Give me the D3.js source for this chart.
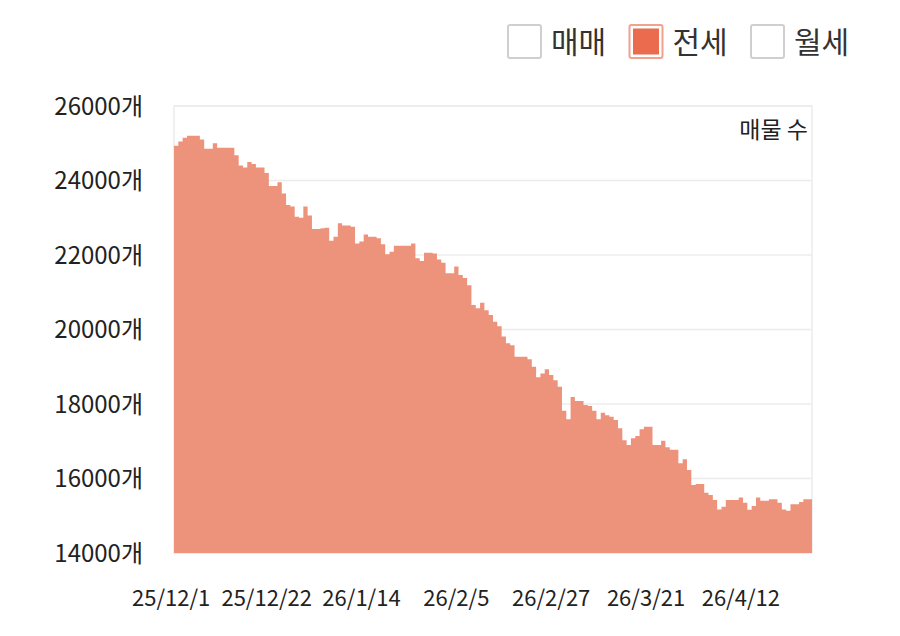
<!DOCTYPE html>
<html>
<head>
<meta charset="utf-8">
<script src="https://cdn.jsdelivr.net/npm/d3@7"></script>
<style>
  body { margin: 0; background: #fff; }
  text { font-family: "Noto Sans CJK KR", "Noto Sans", sans-serif; }
</style>
</head>
<body>
<svg id="chart" width="900" height="636"></svg>
<script>
// listing counts (전세), one value per day
const counts = [
  24930, 25050, 25150, 25200, 25200, 25200, 25100, 24850, 24850, 25000,
  24880, 24880, 24880, 24880, 24680, 24400, 24350, 24500, 24440, 24350,
  24350, 24200, 23850, 23850, 23950, 23650, 23340, 23300, 23030, 23000,
  23300, 23060, 22700, 22700, 22720, 22730, 22380, 22490, 22850, 22790,
  22790, 22760, 22310, 22360, 22550, 22490, 22490, 22450, 22290, 22020,
  22090, 22250, 22250, 22250, 22250, 22310, 21910, 21840, 22060, 22060,
  22040, 21880, 21790, 21510, 21510, 21690, 21460, 21380, 21190, 20660,
  20570, 20720, 20520, 20390, 20210, 20090, 19810, 19630, 19580, 19270,
  19270, 19270, 19200, 19000, 18720, 18820, 18930, 18780, 18640, 18460,
  17820, 17590, 18190, 18080, 18080, 17970, 17945, 17820, 17590, 17765,
  17700, 17660, 17570, 17350, 17030, 16900, 17080, 17140, 17320, 17390,
  17390, 16900, 16900, 17015, 16840, 16770, 16770, 16410, 16515, 16230,
  15825, 15850, 15850, 15620, 15555, 15420, 15170, 15240, 15420, 15420,
  15420, 15490, 15350, 15160, 15260, 15490, 15400, 15400, 15440, 15440,
  15350, 15170, 15135, 15310, 15310, 15370, 15440, 15440
];

// dates: daily from 25/12/1, 26/1/1 has no entry
const startDay = new Date(2025, 11, 1);
const skipDays = ["26/1/1"];
const fmt = d3.timeFormat("%y/%-m/%-d");

const xTicks = ["25/12/1", "25/12/22", "26/1/14", "26/2/5", "26/2/27", "26/3/21", "26/4/12"];
const yTicks = [14000, 16000, 18000, 20000, 22000, 24000, 26000];
const legendItems = ["매매", "전세", "월세"];
const activeItem = "전세";

const days = d3.timeDay.range(startDay, d3.timeDay.offset(startDay, 200))
  .map(fmt)
  .filter(d => skipDays.indexOf(d) < 0)
  .slice(0, counts.length);

const data = counts.map((v, i) => ({ day: days[i], value: v }));

const svg = d3.select("#chart");
const margin = { top: 106, right: 88, bottom: 83, left: 174 };
const W = 900 - margin.left - margin.right,
  H = 636 - margin.top - margin.bottom;

const x = d3.scaleBand()
  .domain(days)
  .range([0, W])
  .padding(0);

const y = d3.scaleLinear()
  .domain([14000, 26000])
  .range([H, 0]);

const g = svg.append("g")
  .attr("transform", "translate(" + margin.left + "," + margin.top + ")");

// grid
g.selectAll("line.grid")
  .data(yTicks)
  .enter()
  .append("line")
  .attr("class", "grid")
  .attr("x1", 0)
  .attr("x2", W)
  .attr("y1", d => y(d))
  .attr("y2", d => y(d))
  .attr("stroke", "#ececec")
  .attr("stroke-width", 1.5);

// frame
g.append("rect")
  .attr("x", 0)
  .attr("y", 0)
  .attr("width", W)
  .attr("height", H)
  .attr("fill", "none")
  .attr("stroke", "#ececec")
  .attr("stroke-width", 1.5);

// step area
const stepData = data.concat([{ day: null, value: data[data.length - 1].value }]);
const area = d3.area()
  .x(d => d.day === null ? W : x(d.day))
  .y0(H)
  .y1(d => y(d.value))
  .curve(d3.curveStepAfter);

g.append("path")
  .datum(stepData)
  .attr("d", area)
  .attr("fill", "#ee937b");

// y axis labels
g.selectAll("text.ylab")
  .data(yTicks)
  .enter()
  .append("text")
  .attr("class", "ylab")
  .attr("x", -31)
  .attr("y", d => y(d))
  .attr("dy", "0.36em")
  .attr("text-anchor", "end")
  .attr("font-size", 24)
  .attr("fill", "#222")
  .text(d => d + "개");

// x axis labels
g.selectAll("text.xlab")
  .data(xTicks)
  .enter()
  .append("text")
  .attr("class", "xlab")
  .attr("x", (d, i) => x(d) + x.bandwidth() / 2 - (i === 0 ? 5 : 0))
  .attr("y", H + 45)
  .attr("dy", "0.36em")
  .attr("text-anchor", "middle")
  .attr("font-size", 22)
  .attr("fill", "#222")
  .text(d => d);

// unit note
g.append("text")
  .attr("x", W - 4)
  .attr("y", 24)
  .attr("dy", "0.36em")
  .attr("text-anchor", "end")
  .attr("font-size", 23)
  .attr("fill", "#222")
  .text("매물 수");

// legend
const legend = svg.append("g")
  .attr("transform", "translate(507,24)");

const item = legend.selectAll("g.item")
  .data(legendItems)
  .enter()
  .append("g")
  .attr("class", "item")
  .attr("transform", (d, i) => "translate(" + (i * 121.5) + ",0)");

item.append("rect")
  .attr("x", 1)
  .attr("y", 1)
  .attr("width", 33)
  .attr("height", 33)
  .attr("rx", 2)
  .attr("fill", "#fff")
  .attr("stroke", d => d === activeItem ? "#f0a28c" : "#cfcfcf")
  .attr("stroke-width", 2);

item.filter(d => d === activeItem)
  .append("rect")
  .attr("x", 4.5)
  .attr("y", 4.5)
  .attr("width", 26)
  .attr("height", 26)
  .attr("fill", "#ea6b4d");

item.append("text")
  .attr("x", 44)
  .attr("y", 18)
  .attr("dy", "0.36em")
  .attr("font-size", 30)
  .attr("fill", "#333")
  .text(d => d);
</script>
</body>
</html>
